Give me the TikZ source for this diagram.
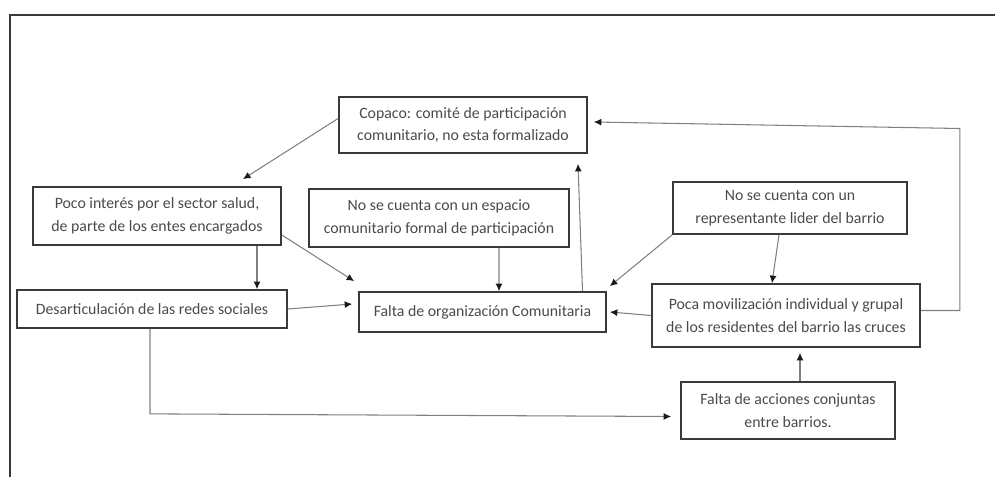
\documentclass[tikz,border=0pt]{standalone}
\usepackage{fontspec}
\setmainfont{Carlito}
\usetikzlibrary{arrows.meta, calc}
\definecolor{CBox}{HTML}{3A3A3A}
\definecolor{CLine}{HTML}{808080}
\definecolor{CText}{HTML}{4A4A4A}
\definecolor{CTip}{HTML}{1A1A1A}

\begin{document}
\begin{tikzpicture}[x=0.02cm, y=-0.02cm,
    box/.style={draw=CBox, line width=1pt, text=CText, align=center, inner sep=0pt,
        font=\fontsize{9}{13}\selectfont},
    link/.style={draw=CLine, line width=0.6pt, -{Latex[length=1.5mm, width=1.4mm, color=CTip]}}]
    \useasboundingbox (0,0) rectangle (995,477);

    % Page frame
    \draw[CBox, line width=0.8pt] (995,15) -- (10,15) -- (10,477);

    % Boxes
    \node[box, minimum width=4.96cm, minimum height=1.12cm] (copaco) at (463,125)
        {Copaco: comité de participación\\comunitario, no esta formalizado};
    \node[box, minimum width=4.96cm, minimum height=1.16cm] (interes) at (157,216)
        {Poco interés por el sector salud,\\de parte de los entes encargados};
    \node[box, minimum width=5.2cm, minimum height=1.16cm] (espacio) at (439,218)
        {No se cuenta con un espacio\\comunitario formal de participación};
    \node[box, minimum width=4.68cm, minimum height=1.04cm] (lider) at (790,208)
        {No se cuenta con un\\representante lider del barrio};
    \node[box, minimum width=5.4cm, minimum height=0.76cm] (desart) at (152,309)
        {Desarticulación de las redes sociales};
    \node[box, minimum width=4.94cm, minimum height=0.8cm] (org) at (482.5,312)
        {Falta de organización Comunitaria};
    \node[box, minimum width=5.36cm, minimum height=1.26cm] (moviliz) at (786,315.5)
        {Poca movilización individual y grupal\\de los residentes del barrio las cruces};
    \node[box, minimum width=4.28cm, minimum height=1.14cm] (acciones) at (788,410.5)
        {Falta de acciones conjuntas\\entre barrios.};

    % Connectors
    \draw[link] (copaco.177) -- ($(interes.north)+(86,-7)$);
    \draw[link] ($(interes.south)+(100,0)$) -- ($(desart.north)+(105,0)$);
    \draw[link] ($(interes.east)+(0,19)$) -- ($(org.north west)+(-4,-10)$);
    \draw[link] ($(espacio.south)+(60,0)$) -- ($(org.north)+(16.5,0)$);
    \draw[link] ($(org.north)+(100,0)$) -- ($(copaco.south)+(115,10)$);
    \draw[link] (lider.south west) -- ($(org.north east)+(3,-5)$);
    \draw[link] ($(lider.south)+(-11,0)$) -- ($(moviliz.north)+(-14,0)$);
    \draw[link] (moviliz.west) -- ($(org.east)+(3,0)$);
    \draw[link] ($(moviliz.east)+(0,-5)$) -- ++(39,0) -- ++(0,-182) -- ($(copaco.east)+(6,-3)$);
    \draw[link] (desart.east) -- ($(org.west)+(-6,-8)$);
    \draw[link] ($(desart.south)+(-2,0)$) -- ++(0,85) -- ($(acciones.west)+(-9,6)$);
    \draw[link] ($(acciones.north)+(12,0)$) -- ($(moviliz.south)+(14,5)$);
\end{tikzpicture}
\end{document}
